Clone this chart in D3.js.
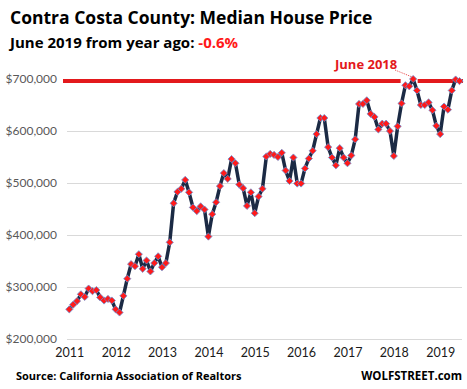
<!DOCTYPE html>
<html>
<head>
<meta charset="utf-8">
<script src="https://cdn.jsdelivr.net/npm/d3@7"></script>
<style>
  body { margin: 0; background: #fff; }
  text { font-family: Lato, "Open Sans", sans-serif; }
  .bold { font-family: "Open Sans", Lato, sans-serif; font-weight: bold; }
</style>
</head>
<body>
<div class="chart"></div>
<script>
// monthly median price, Jan 2011 - Jun 2019
const startYear = 2011;
const medianPrice = [
  257000, 266000, 273000, 286000, 281000, 297000, 292000, 294000, 280000, 274000, 277000, 274000,
  257000, 251000, 283000, 316000, 344000, 340000, 363000, 335000, 351000, 330000, 346000, 359000,
  338000, 346000, 386000, 461000, 483000, 489000, 506000, 482000, 453000, 446000, 455000, 449000,
  397000, 440000, 463000, 494000, 519000, 508000, 546000, 538000, 497000, 490000, 456000, 482000,
  442000, 474000, 489000, 551000, 556000, 554000, 550000, 558000, 524000, 504000, 549000, 499000,
  499000, 528000, 547000, 562000, 594000, 625000, 625000, 569000, 549000, 534000, 567000, 549000,
  538000, 553000, 584000, 652000, 652000, 659000, 633000, 627000, 603000, 614000, 614000, 600000,
  552000, 609000, 653000, 688000, 686000, 700000, 678000, 650000, 650000, 655000, 640000, 610000,
  594000, 647000, 641000, 678000, 699000, 696000
];
const xTicks = [2011, 2012, 2013, 2014, 2015, 2016, 2017, 2018, 2019];
const yTicks = [200000, 300000, 400000, 500000, 600000, 700000];

const data = medianPrice.map((v, i) => ({t: startYear + i / 12, price: v}));
const latest = data[data.length - 1];
const yearAgo = data[data.length - 13];

const width = 467, height = 389;

const svg = d3.select(".chart").append("svg")
    .attr("width", width)
    .attr("height", height);

const xScale = d3.scaleLinear()
    .domain([startYear, latest.t])
    .range([69.3, 459.5]);

const yScale = d3.scaleLinear()
    .domain([200000, 700000])
    .range([339, 79]);

// gridlines + y labels
svg.append("g")
    .attr("class", "axis y-axis")
    .attr("transform", "translate(67,0)")
    .call(d3.axisLeft(yScale).tickValues(yTicks).tickFormat(d3.format("$,")).tickSize(0).tickPadding(10))
    .call(g => g.select(".domain").remove())
    .call(g => g.selectAll(".tick text")
        .attr("font-family", "Lato, sans-serif")
        .attr("font-size", 12)
        .attr("fill", "#595959"))
    .selectAll(".tick line")
    .clone()
    .attr("x2", 395)
    .attr("stroke", "#d9d9d9")
    .attr("stroke-width", 1);

svg.append("g")
    .attr("class", "axis x-axis")
    .attr("transform", "translate(0,346)")
    .call(d3.axisBottom(xScale).tickValues(xTicks).tickFormat(d3.format("d")).tickSize(0).tickPadding(2))
    .call(g => g.select(".domain").remove())
    .selectAll(".tick text")
    .attr("font-family", "Lato, sans-serif")
    .attr("font-size", 12.5)
    .attr("fill", "#1a1a1a");

// reference line at the latest value
svg.append("line")
    .attr("x1", 63)
    .attr("x2", 463)
    .attr("y1", yScale(latest.price))
    .attr("y2", yScale(latest.price))
    .attr("stroke", "#e3191c")
    .attr("stroke-width", 4);

// white gap behind the June 2018 callout
svg.append("rect")
    .attr("x", xScale(yearAgo.t) - 12.5)
    .attr("y", yScale(latest.price) - 3)
    .attr("width", 17)
    .attr("height", 6)
    .attr("fill", "#fff");

const line = d3.line()
    .x(d => xScale(d.t))
    .y(d => yScale(d.price));

svg.append("path")
    .datum(data)
    .attr("fill", "none")
    .attr("stroke", "#1b2a44")
    .attr("stroke-width", 3.5)
    .attr("stroke-linejoin", "round")
    .attr("d", line);

svg.append("g")
    .attr("fill", "#ff1a1a")
    .attr("stroke", "#6d8fd0")
    .attr("stroke-width", 0.8)
    .selectAll("path")
    .data(data)
    .join("path")
    .attr("transform", d => `translate(${xScale(d.t)},${yScale(d.price)})`)
    .attr("d", "M0,-3.6L3.6,0L0,3.6L-3.6,0Z");

// callout
svg.append("line")
    .attr("x1", 395)
    .attr("y1", 70)
    .attr("x2", xScale(yearAgo.t) - 1)
    .attr("y2", yScale(yearAgo.price) - 2)
    .attr("stroke", "#e3191c")
    .attr("stroke-width", 0.8)
    .attr("stroke-dasharray", "1,1");

svg.append("text")
    .attr("class", "bold")
    .attr("x", 335)
    .attr("y", 69)
    .attr("font-size", 13)
    .attr("fill", "#e3191c")
    .text("June 2018");

// titles
svg.append("text")
    .attr("class", "bold")
    .attr("x", 10)
    .attr("y", 24)
    .attr("font-size", 17.5)
    .attr("fill", "#000")
    .text("Contra Costa County: Median House Price");

const change = latest.price / yearAgo.price - 1;
const sub = svg.append("text")
    .attr("class", "bold")
    .attr("x", 10)
    .attr("y", 48)
    .attr("font-size", 15)
    .attr("fill", "#000");
sub.append("tspan").text("June 2019 from year ago: ");
sub.append("tspan").attr("fill", "#ff1a1a").text((change * 100).toFixed(1) + "%");

svg.append("text")
    .attr("class", "bold")
    .attr("x", 16)
    .attr("y", 380)
    .attr("font-size", 11)
    .attr("fill", "#000")
    .text("Source: California Association of Realtors");

svg.append("text")
    .attr("class", "bold")
    .attr("x", 462)
    .attr("y", 380)
    .attr("text-anchor", "end")
    .attr("font-size", 11.5)
    .attr("fill", "#000")
    .text("WOLFSTREET.com");
</script>
</body>
</html>
